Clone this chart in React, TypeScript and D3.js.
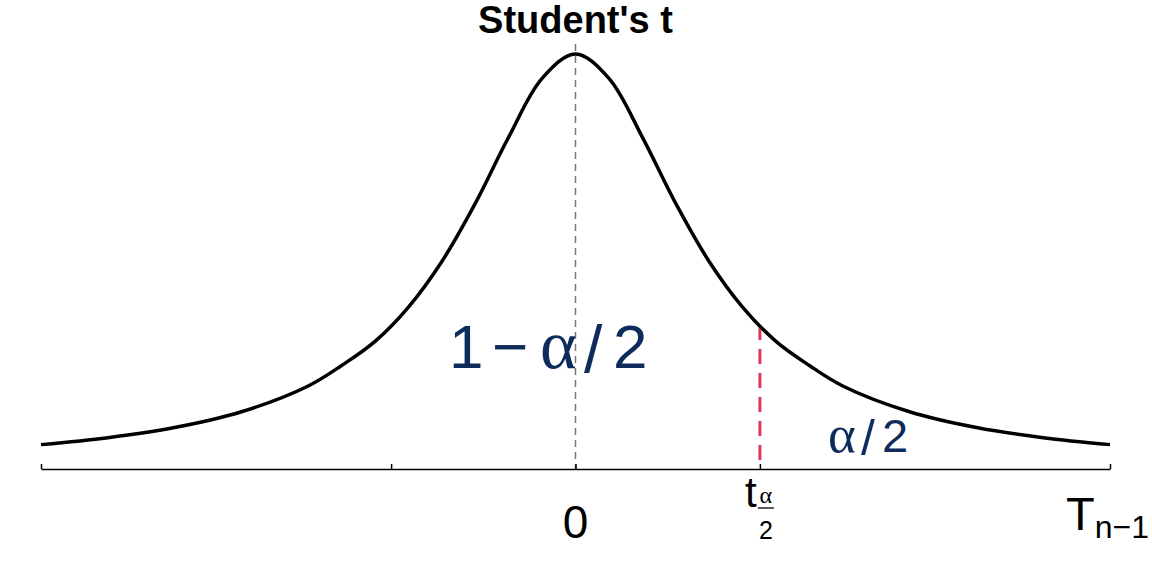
import React, { useEffect, useRef } from 'react';
import * as d3 from 'd3';

const tValues = [-4, -3.5, -3, -2.5, -2, -1.75, -1.5, -1.25, -1, -0.75, -0.5, -0.25, 0,
  0.25, 0.5, 0.75, 1, 1.25, 1.5, 1.75, 2, 2.5, 3, 3.5, 4];
const density = [0.0187, 0.0240, 0.0318, 0.0439, 0.0637, 0.0794, 0.0979, 0.1242, 0.1592, 0.2037, 0.2546, 0.2996, 0.3183,
  0.2996, 0.2546, 0.2037, 0.1592, 0.1242, 0.0979, 0.0794, 0.0637, 0.0439, 0.0318, 0.0240, 0.0187];

const criticalT = 1.38;
const tickValues = [-4, -criticalT, 0, criticalT, 4];

const W = 1152;
const H = 576;
const SANS = '"Liberation Sans", Arial, sans-serif';
const SERIF = '"Liberation Serif", "Times New Roman", serif';
const NAVY = '#0d2c5c';

const App: React.FC = () => {
  const svgRef = useRef<SVGSVGElement | null>(null);

  useEffect(() => {
    const svg = d3.select(svgRef.current);
    svg.selectAll('*').remove();

    const x = d3.scaleLinear().domain([-4, 4]).range([41, 1110]);
    const y = d3.scaleLinear().domain([0, 0.3183]).range([469, 54]);

    const pts: [number, number][] = tValues.map((t, i) => [t, density[i]]);
    const densityAt = (t: number) => {
      // read the curve height at t from the listed samples
      const i = d3.bisector((d: [number, number]) => d[0]).left(pts, t);
      if (pts[i] && pts[i][0] === t) return pts[i][1];
      const a = pts[i - 1], b = pts[i];
      return a[1] + (b[1] - a[1]) * (t - a[0]) / (b[0] - a[0]);
    };

    // centre line
    svg.append('line')
      .attr('x1', x(0)).attr('x2', x(0))
      .attr('y1', 44).attr('y2', y(0))
      .attr('stroke', '#777').attr('stroke-width', 1.5)
      .attr('stroke-dasharray', '7,5');

    // critical value line
    svg.append('line')
      .attr('x1', x(criticalT)).attr('x2', x(criticalT))
      .attr('y1', y(densityAt(criticalT))).attr('y2', y(0))
      .attr('stroke', '#dc3a5f').attr('stroke-width', 3)
      .attr('stroke-dasharray', '15,9');

    // axis
    const axis = d3.axisBottom(x)
      .tickValues(tickValues)
      .tickSizeInner(-5)
      .tickSizeOuter(0)
      .tickFormat(() => '');
    const g = svg.append('g').attr('transform', `translate(0,${y(0)})`).call(axis);
    g.select('.domain').attr('stroke', '#000').attr('stroke-width', 1.5);
    g.selectAll('.tick line').attr('stroke', '#000').attr('stroke-width', 1.5);

    // curve
    const line = d3.line<[number, number]>()
      .x(d => x(d[0]))
      .y(d => y(d[1]))
      .curve(d3.curveCatmullRom.alpha(0.5));
    svg.append('path')
      .datum(pts)
      .attr('d', line)
      .attr('fill', 'none')
      .attr('stroke', '#000')
      .attr('stroke-width', 3.5);

    // title
    svg.append('text')
      .attr('x', x(0)).attr('y', 33)
      .attr('text-anchor', 'middle')
      .attr('font-family', SANS).attr('font-weight', 'bold').attr('font-size', 38)
      .text("Student's t");

    // tick labels
    svg.append('text')
      .attr('x', x(0)).attr('y', 538)
      .attr('text-anchor', 'middle')
      .attr('font-family', SANS).attr('font-size', 46)
      .text('0');

    const tl = svg.append('g').attr('transform', `translate(${x(criticalT)},0)`);
    tl.append('text').attr('x', -15).attr('y', 507)
      .attr('font-family', SANS).attr('font-size', 42).text('t');
    tl.append('text').attr('x', 6).attr('y', 503).attr('text-anchor', 'middle')
      .attr('font-family', SERIF).attr('font-size', 24).text('α');
    tl.append('line').attr('x1', -2).attr('x2', 14).attr('y1', 508).attr('y2', 508)
      .attr('stroke', '#000').attr('stroke-width', 1.3);
    tl.append('text').attr('x', 6).attr('y', 539).attr('text-anchor', 'middle')
      .attr('font-family', SANS).attr('font-size', 25).text('2');

    const tn = svg.append('text').attr('x', 1066).attr('y', 530)
      .attr('font-family', SANS).attr('font-size', 47);
    tn.append('tspan').text('T');
    tn.append('tspan').attr('font-size', 32).attr('dy', 8).text('n−1');

    // area labels
    const big = svg.append('text').attr('y', 368)
      .attr('font-family', SANS).attr('font-size', 62).attr('fill', NAVY);
    big.append('tspan').attr('x', 449).text('1');
    big.append('tspan').attr('x', 492).text('−');
    big.append('tspan').attr('x', 540).attr('font-family', SERIF).attr('font-size', 70).text('α');
    big.append('tspan').attr('x', 584).attr('font-size', 66).attr('dy', 4).text('/');
    big.append('tspan').attr('x', 613).attr('dy', -4).text('2');

    const small = svg.append('text').attr('y', 452)
      .attr('font-family', SANS).attr('font-size', 47).attr('fill', NAVY);
    small.append('tspan').attr('x', 828).attr('font-family', SERIF).attr('font-size', 53).text('α');
    small.append('tspan').attr('x', 861).attr('font-size', 50).attr('dy', 3).text('/');
    small.append('tspan').attr('x', 882).attr('dy', -3).text('2');
  }, []);

  return (
    <svg
      ref={svgRef}
      width={W}
      height={H}
      style={{ position: 'absolute', left: 0, top: 0, background: '#fff' }}
    />
  );
};

export default App;
